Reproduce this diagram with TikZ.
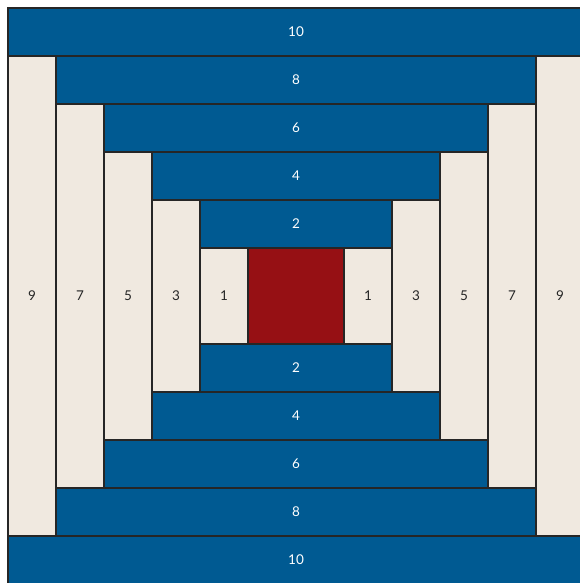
\documentclass[tikz,border=0pt]{standalone}
\usepackage{fontspec}
\setmainfont{Lato}
\definecolor{quiltblue}{HTML}{005A92}
\definecolor{quiltcream}{HTML}{F0E9E0}
\definecolor{quiltred}{HTML}{961014}
\tikzset{
  patch/.style={draw=black!85, line width=0.75pt, inner sep=0pt, outer sep=0pt, font=\fontsize{8}{9}\selectfont},
  bluepatch/.style={patch, fill=quiltblue, text=white},
  creampatch/.style={patch, fill=quiltcream, text=black!85}
}
\begin{document}
\begin{tikzpicture}
        \useasboundingbox (-1/6,1/48) rectangle (12-5/48,12+1/6);
        \node[patch, fill=quiltred, minimum width=2cm, minimum height=2cm] (centre) at (6,6) {};
        \foreach \k in {1,...,5}{
          \pgfmathtruncatemacro{\odd}{2*\k-1}
          \pgfmathtruncatemacro{\even}{2*\k}
          \pgfmathsetmacro{\tall}{2*\k}
          \pgfmathsetmacro{\wide}{2*\k+2}
          \node[creampatch, minimum width=1cm, minimum height=\tall cm] (left\k) at (5.5-\k,6) {\odd};
          \node[creampatch, minimum width=1cm, minimum height=\tall cm] (right\k) at (6.5+\k,6) {\odd};
          \node[bluepatch, minimum width=\wide cm, minimum height=1cm] (top\k) at (6,6.5+\k) {\even};
          \node[bluepatch, minimum width=\wide cm, minimum height=1cm] (bottom\k) at (6,5.5-\k) {\even};
        }
\end{tikzpicture}
\end{document}
